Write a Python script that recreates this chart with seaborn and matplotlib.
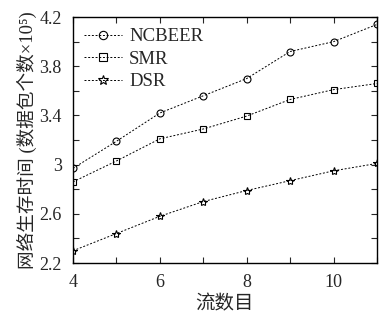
import matplotlib
matplotlib.use('Agg')
from matplotlib import pyplot as plt
from matplotlib.ticker import MultipleLocator
import seaborn as sns
import pandas as pd

flows = [4, 5, 6, 7, 8, 9, 10, 11]
ncbeer = [2.97, 3.19, 3.42, 3.56, 3.70, 3.92, 4.00, 4.14]
smr = [2.86, 3.03, 3.21, 3.29, 3.395, 3.53, 3.61, 3.66]
dsr = [2.30, 2.44, 2.58, 2.70, 2.79, 2.87, 2.95, 3.01]
names = ['NCBEER', 'SMR', 'DSR']
markers = ['o', 's', '*']


def make_plot():
    sns.set_style('ticks')
    plt.rcParams['font.family'] = ['Liberation Serif', 'Noto Sans CJK SC']
    data = pd.DataFrame({'flows': flows * 3,
                         'value': ncbeer + smr + dsr,
                         'method': sum([[n] * len(flows) for n in names], [])})

    fig = plt.figure(figsize=(3.8, 3.22), dpi=100)
    ax = fig.add_axes([0.192, 0.183, 0.8, 0.764])
    for name, mk in zip(names, markers):
        sub = data[data['method'] == name]
        sns.lineplot(data=sub, x='flows', y='value', ax=ax, color='black',
                     linestyle=(0, (2, 1.8)), linewidth=0.7, marker=mk,
                     markersize=5 if mk != '*' else 6, markerfacecolor='none',
                     markeredgecolor='black', markeredgewidth=0.8, label=name)

    ax.set_xlim(4, 11)
    ax.set_ylim(2.2, 4.2)
    ax.xaxis.set_major_locator(MultipleLocator(2))
    ax.xaxis.set_minor_locator(MultipleLocator(1))
    ax.yaxis.set_minor_locator(MultipleLocator(0.2))
    ax.set_yticks([2.2, 2.6, 3.0, 3.4, 3.8, 4.2])
    ax.set_yticklabels(['2.2', '2.6', '3', '3.4', '3.8', '4.2'])
    ax.tick_params(which='both', direction='in', top=True, right=True,
                   length=4, width=0.8, labelsize=13, pad=8)
    for s in ax.spines.values():
        s.set_linewidth(1.0)
        s.set_color('black')

    ax.set_xlabel('流数目', fontsize=14, labelpad=3)
    ax.set_ylabel('网络生存时间 (数据包个数×10⁵)', fontsize=13.4, labelpad=2)
    ax.legend(loc='upper left', frameon=False, fontsize=13.5,
              handlelength=2.0, handletextpad=0.4, labelspacing=0.28,
              borderaxespad=0.2, markerscale=1.2)


def save_plot_as(filename):
    make_plot()
    plt.savefig(filename, dpi=100)
    plt.close()


if __name__ == '__main__':
    save_plot_as('out.png')
